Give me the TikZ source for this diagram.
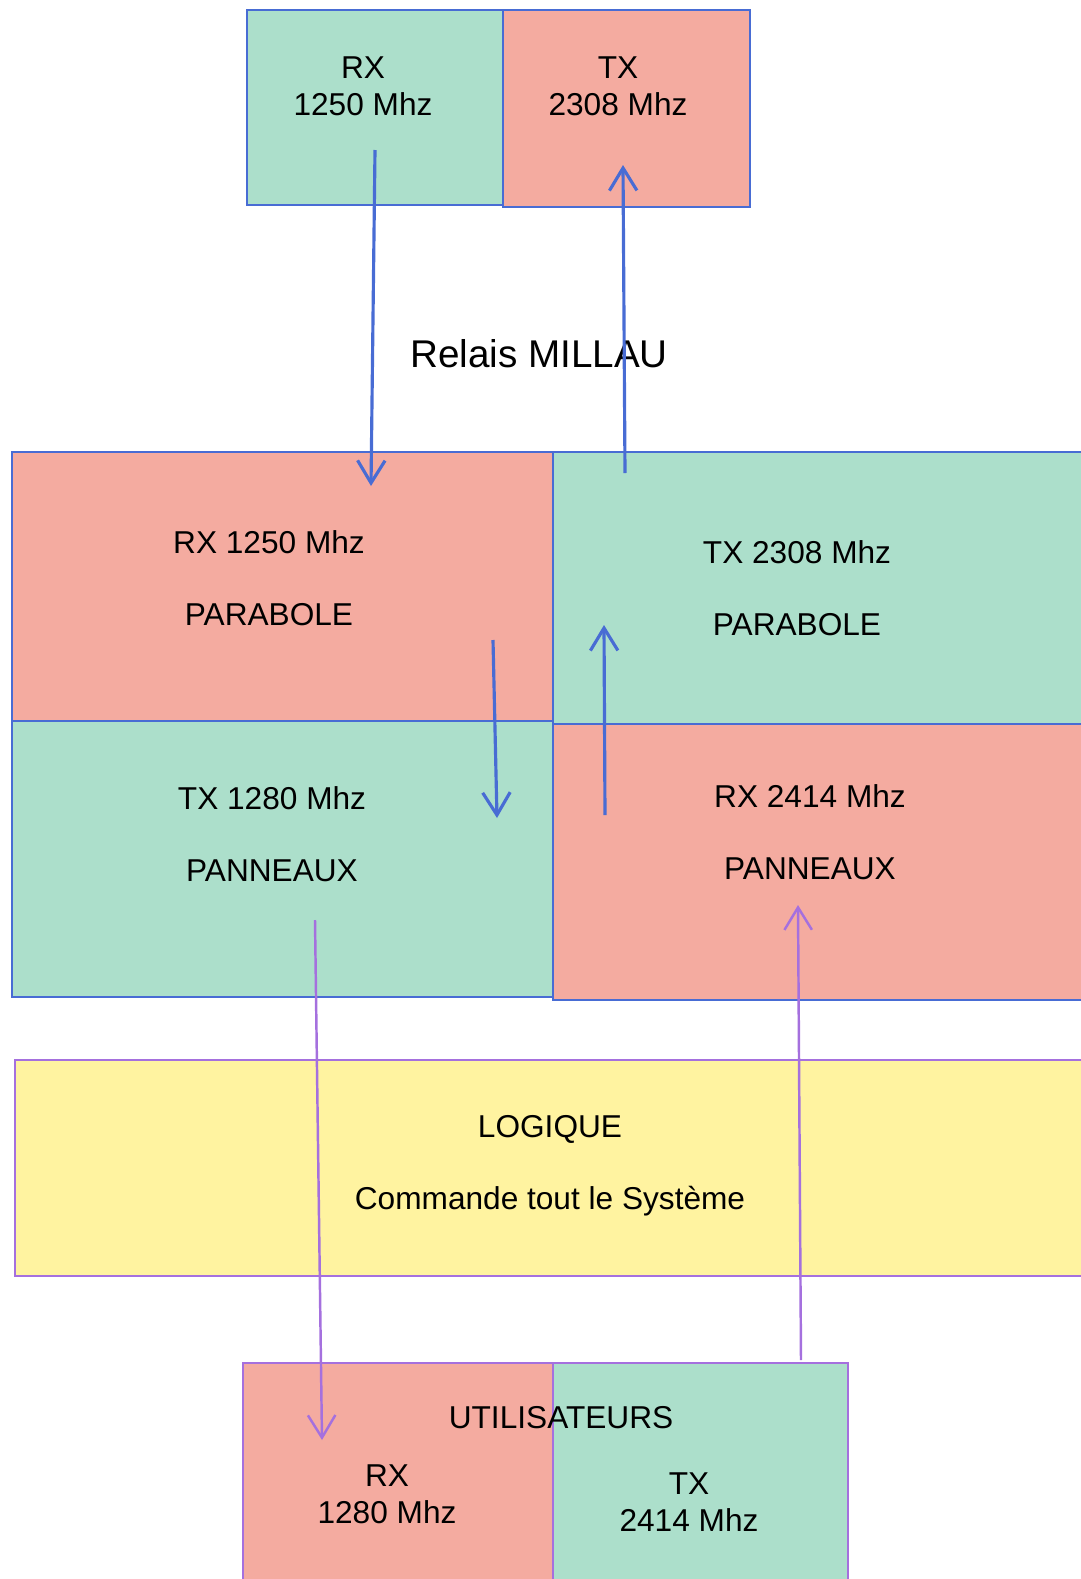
\documentclass[tikz,border=0pt]{standalone}
\usepackage{fontspec}
\setmainfont{Liberation Sans}
\usetikzlibrary{positioning, fit, arrows.meta}
\definecolor{vert}{RGB}{172,223,203}
\definecolor{saumon}{RGB}{244,171,160}
\definecolor{jaune}{RGB}{255,243,160}
\definecolor{bleu}{RGB}{72,108,212}
\definecolor{violet}{RGB}{165,112,222}

\begin{document}
\begin{tikzpicture}[x=0.02cm, y=-0.02cm, >={Straight Barb[length=4.5mm, width=5.5mm]},
    vbox/.style={draw=bleu, fill=vert, line width=1.1pt, inner sep=0pt},
    rbox/.style={draw=bleu, fill=saumon, line width=1.1pt, inner sep=0pt},
    lbl/.style={font=\fontsize{18}{21}\selectfont, align=center, inner sep=0pt},
    fleche/.style={->, color=bleu, line width=1.8pt},
    flechev/.style={->, color=violet, line width=1.4pt}]
		% relais
		\node[vbox, fit={(247,10) (503,205)}]   (rxr) {};
		\node[rbox, fit={(503,10) (750,207)}]   (txr) {};
		\node[lbl] (lrxr) at (363,86) {RX\\1250 Mhz};
		\node[lbl] (ltxr) at (618,86) {TX\\2308 Mhz};
		\node[lbl, font=\fontsize{22}{26}\selectfont] (relais) at (539,354) {Relais MILLAU};
		% parabole / panneaux
		\node[rbox, fit={(12,452) (553,721)}]   (rxpar) {};
		\node[vbox, fit={(553,452) (1082,724)}] (txpar) {};
		\node[vbox, fit={(12,721) (553,997)}]   (txpan) {};
		\node[rbox, fit={(553,724) (1082,1000)}] (rxpan) {};
		\node[lbl] (lrxpar) at (269,578) {RX 1250 Mhz\\[20pt]PARABOLE};
		\node[lbl] (ltxpar) at (797,588) {TX 2308 Mhz\\[20pt]PARABOLE};
		\node[lbl] (ltxpan) at (272,834) {TX 1280 Mhz\\[20pt]PANNEAUX};
		\node[lbl] (lrxpan) at (810,832) {RX 2414 Mhz\\[20pt]PANNEAUX};
		% logique
		\node[draw=violet, fill=jaune, line width=1.1pt, inner sep=0pt, fit={(15,1060) (1082,1276)}] (logique) {};
		\node[lbl] (llogique) at (550,1166) {LOGIQUE\\[20pt]Commande tout le Système};
		% utilisateurs
		\node[draw=violet, fill=saumon, line width=1.1pt, inner sep=0pt, fit={(243,1363) (553,1582)}] (rxu) {};
		\node[draw=violet, fill=vert, line width=1.1pt, inner sep=0pt, fit={(553,1363) (848,1582)}]   (txu) {};
		\node[lbl] (lrxu) at (387,1494) {RX\\1280 Mhz};
		\node[lbl] (ltxu) at (689,1502) {TX\\2414 Mhz};
		\node[lbl] (util) at (561,1418) {UTILISATEURS};
		% liaisons
		\coordinate (a1) at (375,150);  \coordinate (b1) at (371,486);
		\coordinate (a2) at (625,473);  \coordinate (b2) at (623,165);
		\coordinate (a3) at (493,640);  \coordinate (b3) at (497,818);
		\coordinate (a4) at (605,815);  \coordinate (b4) at (604,625);
		\coordinate (a5) at (315,920);  \coordinate (b5) at (322,1440);
		\coordinate (a6) at (801,1360); \coordinate (b6) at (798,905);
		\path[fleche]
			(a1) edge (b1)
			(a2) edge (b2)
			(a3) edge (b3)
			(a4) edge (b4);
		\path[flechev]
			(a5) edge (b5)
			(a6) edge (b6);
		\pgfresetboundingbox
		\useasboundingbox (0,0) rectangle (1080,1579);
\end{tikzpicture}
\end{document}
